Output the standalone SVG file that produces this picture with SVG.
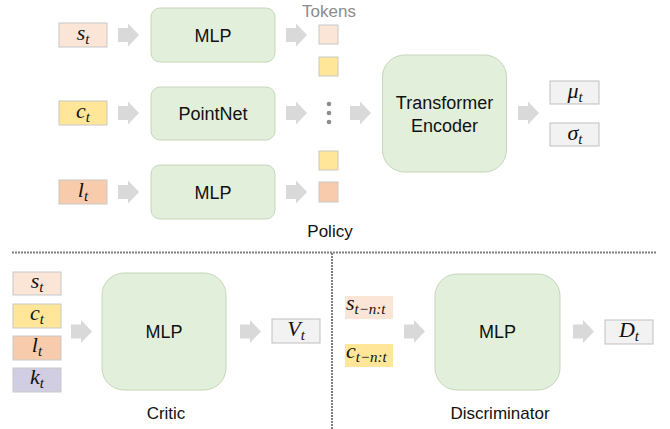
<svg xmlns="http://www.w3.org/2000/svg" width="670" height="429" viewBox="0 0 670 429">
  <style>
    .lbl { font-family: "Liberation Sans", Arial, sans-serif; font-size: 18px; fill: #111; text-anchor: middle; }
    .cap { font-family: "Liberation Sans", Arial, sans-serif; font-size: 17px; fill: #111; text-anchor: middle; }
    .tok { font-family: "Liberation Sans", Arial, sans-serif; font-size: 17px; fill: #8c8c8c; text-anchor: middle; }
    .m { font-family: "Liberation Serif", "Times New Roman", serif; font-style: italic; font-size: 22px; fill: #111; text-anchor: middle; }
    .ms { text-anchor: start; }
    .sub { font-size: 15px; }
    .blk { fill: #E2EFDA; stroke: #C5D6BA; stroke-width: 1; }
    .in { stroke: #C8C8C8; stroke-width: 1; }
    .s { fill: #FBE5D6; }
    .c { fill: #FFE699; }
    .l { fill: #F8CBAD; }
    .k { fill: #D1CDE3; }
    .out { fill: #F2F2F2; stroke: #BFBFBF; stroke-width: 1; }
    .arr { fill: #D9D9D9; }
    .sep { stroke: #808080; stroke-width: 2; stroke-dasharray: 2 1; fill: none; }
  </style>
  <defs>
    <path id="ar" d="M0,-7 H10 V-11.5 L21,0 L10,11.5 V7 H0 Z"/>
  </defs>

  <!-- Policy: inputs -->
  <g id="in-s"><rect class="in s" x="59" y="23" width="48" height="24"/><text class="m" x="83" y="40">s<tspan class="sub" dy="4">t</tspan></text></g>
  <g id="in-c"><rect class="in c" x="59" y="101" width="48" height="24"/><text class="m" x="83" y="118">c<tspan class="sub" dy="4">t</tspan></text></g>
  <g id="in-l"><rect class="in l" x="59" y="180" width="48" height="24"/><text class="m" x="83" y="197">l<tspan class="sub" dy="4">t</tspan></text></g>

  <!-- Policy: encoders -->
  <g id="mlp-s"><rect class="blk" x="151" y="8" width="124" height="54" rx="9"/><text class="lbl" x="213" y="41.5">MLP</text></g>
  <g id="pointnet"><rect class="blk" x="151" y="87" width="124" height="53" rx="9"/><text class="lbl" x="213" y="120">PointNet</text></g>
  <g id="mlp-l"><rect class="blk" x="151" y="165" width="124" height="54" rx="9"/><text class="lbl" x="213" y="198.5">MLP</text></g>

  <!-- Policy: tokens -->
  <g id="tokens">
    <text class="tok" x="329" y="17">Tokens</text>
    <rect class="in s" x="319" y="25" width="19" height="19"/>
    <rect class="in c" x="319" y="57" width="19" height="19"/>
    <circle cx="329" cy="104" r="2.3" fill="#8c8c8c"/>
    <circle cx="329" cy="113" r="2.3" fill="#8c8c8c"/>
    <circle cx="329" cy="122" r="2.3" fill="#8c8c8c"/>
    <rect class="in c" x="319" y="151" width="19" height="19"/>
    <rect class="in l" x="319" y="182" width="19" height="20"/>
  </g>

  <!-- Policy: transformer and outputs -->
  <g id="transformer"><rect class="blk" x="382.5" y="55" width="124" height="117" rx="22"/><text class="lbl" x="444.5" y="109">Transformer</text><text class="lbl" x="444.5" y="131.5">Encoder</text></g>
  <g id="out-mu"><rect class="out" x="550" y="81" width="49" height="23"/><text class="m" x="575" y="98">μ<tspan class="sub" dy="4">t</tspan></text></g>
  <g id="out-sigma"><rect class="out" x="550" y="123" width="49" height="23"/><text class="m" x="575" y="140">σ<tspan class="sub" dy="4">t</tspan></text></g>
  <text class="cap" x="330" y="237">Policy</text>

  <!-- Critic -->
  <g id="critic-s"><rect class="in s" x="13" y="272" width="48" height="23"/><text class="m" x="37" y="288">s<tspan class="sub" dy="4">t</tspan></text></g>
  <g id="critic-c"><rect class="in c" x="13" y="304" width="48" height="24"/><text class="m" x="37" y="320">c<tspan class="sub" dy="4">t</tspan></text></g>
  <g id="critic-l"><rect class="in l" x="13" y="336" width="48" height="24"/><text class="m" x="37" y="352">l<tspan class="sub" dy="4">t</tspan></text></g>
  <g id="critic-k"><rect class="in k" x="13" y="368" width="48" height="24"/><text class="m" x="37" y="384">k<tspan class="sub" dy="4">t</tspan></text></g>
  <g id="critic-mlp"><rect class="blk" x="102" y="273" width="124" height="117" rx="22"/><text class="lbl" x="164" y="338">MLP</text></g>
  <g id="critic-v"><rect class="out" x="272" y="319" width="48" height="24"/><text class="m" x="296" y="336">V<tspan class="sub" dy="4">t</tspan></text></g>
  <text class="cap" x="166" y="419">Critic</text>

  <!-- Discriminator -->
  <g id="disc-s"><rect class="s" x="345" y="296" width="48" height="23"/><text class="m ms" x="346" y="310">s<tspan class="sub" dy="4">t−n:t</tspan></text></g>
  <g id="disc-c"><rect class="c" x="345" y="344" width="48" height="23"/><text class="m ms" x="346" y="358">c<tspan class="sub" dy="4">t−n:t</tspan></text></g>
  <g id="disc-mlp"><rect class="blk" x="435" y="274" width="125" height="116" rx="22"/><text class="lbl" x="497.5" y="338">MLP</text></g>
  <g id="disc-d"><rect class="out" x="605" y="320" width="48" height="24"/><text class="m" x="629" y="337">D<tspan class="sub" dy="4">t</tspan></text></g>
  <text class="cap" x="500" y="419">Discriminator</text>

  <!-- Connectors -->
  <g id="connectors" class="arr">
    <use href="#ar" x="118" y="35"/>
    <use href="#ar" x="118" y="113"/>
    <use href="#ar" x="118" y="192"/>
    <use href="#ar" x="286" y="35"/>
    <use href="#ar" x="286" y="113"/>
    <use href="#ar" x="286" y="192"/>
    <use href="#ar" x="350" y="113"/>
    <use href="#ar" x="518" y="113"/>
    <use href="#ar" x="71" y="331.5"/>
    <use href="#ar" x="240" y="331.5"/>
    <use href="#ar" x="404" y="331.5"/>
    <use href="#ar" x="573" y="331.5"/>
  </g>

  <!-- Section separators -->
  <g id="separators">
    <line class="sep" x1="12" y1="252.5" x2="657" y2="252.5"/>
    <line class="sep" x1="332" y1="253" x2="332" y2="429"/>
  </g>
</svg>
